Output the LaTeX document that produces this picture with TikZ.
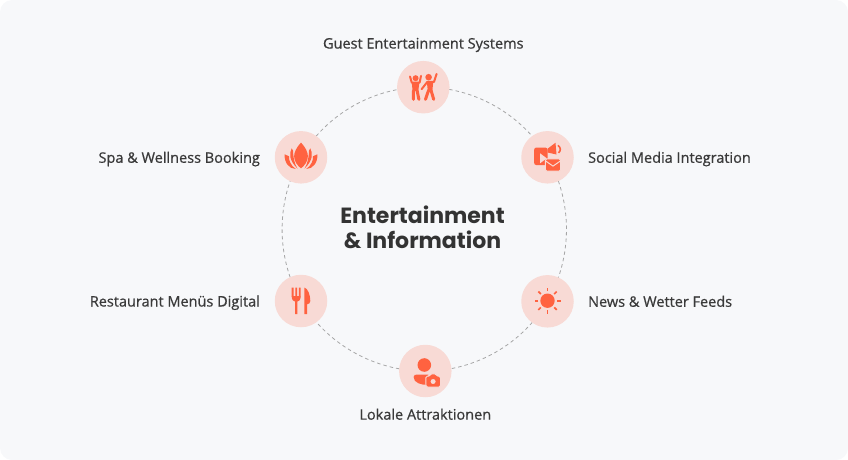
\documentclass[tikz,border=0pt]{standalone}
\usepackage{fontspec}
\setmainfont{Open Sans}
\newfontfamily\labelfont[FakeBold=0.7]{Open Sans}
\newfontfamily\titlefont{Poppins}
\usetikzlibrary{positioning,backgrounds}
\definecolor{panelbg}{HTML}{F7F8FA}
\definecolor{discpink}{HTML}{F8DAD5}
\definecolor{iconred}{HTML}{FF6240}
\definecolor{ringgray}{HTML}{A6A6A6}
\definecolor{labelgray}{HTML}{3A3A3A}
\definecolor{titlegray}{HTML}{333333}
\tikzset{
	disc/.style={circle, fill=discpink, minimum size=52.5pt, inner sep=0pt},
	itemlabel/.style={font=\labelfont\fontsize{14.5}{17}\selectfont, text=labelgray, inner sep=0pt, text height=11pt, text depth=3pt, yshift=-1.5pt},
	ringline/.style={draw=ringgray, line width=0.8pt, dash pattern=on 3.5pt off 3pt, bend left=30, looseness=0.9},
	solid icon/.style={fill=iconred, draw=none},
	limb/.style={draw=iconred, line width=3pt, line cap=round, line join=round},
	hole/.style={fill=discpink, draw=none},
	pics/dancers/.style={code={
		\fill[solid icon] (-7.7,-9) circle (3) (5.3,-10) circle (3.3);
		\draw[limb, line width=2pt] (-13.3,-10.7) -- (-11.5,-4.5) -- (-3.7,-4.5) -- (-2.3,-11.3);
		\fill[solid icon] (-11.5,-4.5) -- (-4,-4.5) -- (-5,4) -- (-10.7,4) -- cycle;
		\draw[limb] (-9.9,3.5) -- (-9.9,12.2) (-6.2,3.5) -- (-4.4,12.2);
		\fill[solid icon] (3.5,-6) -- (10,-6) -- (9,4) -- (4.5,4) -- cycle;
		\draw[limb, line width=2pt] (13.3,-13.3) -- (10.7,-5.3) -- (4,-5.3) -- (-1.7,2);
		\draw[limb] (5.3,3) -- (2.2,12.2) (7.7,3) -- (10.4,12.2);
	}},
	pics/socialmedia/.style={code={
		\fill[solid icon, rounded corners=2pt] (-13.3,-9.7) rectangle (0,7.7);
		\fill[hole] (-7.5,-4) -- (-0.7,1) -- (-7.5,6) -- cycle;
		\fill[solid icon] (0,-8.5) -- (8,-14.5) -- (9,-2.8) -- (0,-4.8) -- cycle;
		\draw[iconred, line width=1.6pt] (10.5,-12) .. controls (13.5,-9.5) and (13.5,-6.5) .. (11,-4.5);
		\fill[solid icon, draw=discpink, line width=1pt, rounded corners=1.5pt] (-2.2,1.5) rectangle (13.2,13.8);
		\draw[discpink, line width=1pt] (-1.7,3.8) -- (5.5,8.8) -- (12.7,3.8);
	}},
	pics/sunshine/.style={code={
		\fill[solid icon] (0,-0.6) circle (7.2);
		\foreach \ang in {0,45,...,315}
			\draw[iconred, line width=1.7pt] ([yshift=0.6pt]\ang:9.5) -- ([yshift=0.6pt]\ang:13);
	}},
	pics/visitor/.style={code={
		\fill[solid icon] (-1,-6) circle (6.8);
		\fill[solid icon] (-11.7,6) .. controls (-11.7,4) and (-10,3.5) .. (-8,3.5) -- (3,3.5)
			-- (3,14) .. controls (-4,14) and (-11.7,12) .. cycle;
		\fill[solid icon, draw=discpink, line width=1pt, rounded corners=1.5pt] (0.5,5.2) -- (4.3,5.2) -- (5,2.8) -- (11,2.8) -- (11.7,5.2)
			-- (15.3,5.2) -- (15.3,16) -- (0.5,16) -- cycle;
		\fill[hole] (7.8,10.5) circle (2.5);
	}},
	pics/cutlery/.style={code={
		\fill[solid icon] (-9.3,-13.3) rectangle (-7.5,-4.5) (-5.7,-13.3) rectangle (-3.9,-4.5) (-2.1,-13.3) rectangle (-0.3,-4.5);
		\fill[solid icon] (-9.3,-5) .. controls (-9.3,-1) and (-7.5,0.5) .. (-6,0.5) -- (-6,13) -- (-3.6,13) -- (-3.6,0.5)
			.. controls (-2,0.5) and (-0.3,-1) .. (-0.3,-5) -- cycle;
		\fill[solid icon] (3.3,-13.5) .. controls (7,-12.5) and (9.3,-6) .. (9.3,0) .. controls (9.3,2) and (8,3.3) .. (6,3.3)
			-- (6,13) -- (3.3,13) -- cycle;
	}},
	pics/lotus/.style={code={
		\fill[solid icon] (0,-14.7) .. controls (4.5,-10) and (6.9,-5) .. (6.9,-1) .. controls (6.9,4) and (3,9) .. (0,11)
			.. controls (-3,9) and (-6.9,4) .. (-6.9,-1) .. controls (-6.9,-5) and (-4.5,-10) .. cycle;
		\foreach \flip in {1,-1} {
			\begin{scope}[xscale=\flip]
				\fill[solid icon] (9.3,-9) .. controls (12,-4) and (12,3) .. (3.5,11.3) .. controls (6.8,6) and (8,-1) .. (7.9,-6.5) -- cycle;
				\fill[solid icon] (16.3,-3) .. controls (17,5) and (12,11.7) .. (5.2,11.7) .. controls (10,8.5) and (12.5,3) .. (12,-1) -- cycle;
			\end{scope}
		}
	}},
}
\begin{document}
\begin{tikzpicture}[x=1pt, y=-1pt]
	\useasboundingbox (0,0) rectangle (848,460);
	
	% item discs, clockwise from the top
	\node[disc] (guest) at (423.3,87.2) {};
	\node[disc] (social) at (547.5,157.3) {};
	\node[disc] (news) at (547.5,301.3) {};
	\node[disc] (local) at (425.3,371) {};
	\node[disc] (food) at (301,301) {};
	\node[disc] (spa) at (301,157.3) {};
	
	\begin{pgfonlayer}{background}
		\fill[panelbg, rounded corners=12pt] (0,0) rectangle (848,460);
		\draw[ringline] (guest.center) to (social.center);
		\draw[ringline] (social.center) to (news.center);
		\draw[ringline] (news.center) to (local.center);
		\draw[ringline] (local.center) to (food.center);
		\draw[ringline] (food.center) to (spa.center);
		\draw[ringline] (spa.center) to (guest.center);
	\end{pgfonlayer}
	
	\pic at (guest) {dancers};
	\pic at (social) {socialmedia};
	\pic at (news) {sunshine};
	\pic at (local) {visitor};
	\pic at (food) {cutlery};
	\pic at (spa) {lotus};
	
	\node[itemlabel, above=10.5pt of guest] (guestlabel) {Guest Entertainment Systems};
	\node[itemlabel, right=14pt of social] (sociallabel) {Social Media Integration};
	\node[itemlabel, right=14pt of news] (newslabel) {News \& Wetter Feeds};
	\node[itemlabel, below=9.5pt of local] (locallabel) {Lokale Attraktionen};
	\node[itemlabel, left=14.5pt of food] (foodlabel) {Restaurant Menüs Digital};
	\node[itemlabel, left=14.5pt of spa] (spalabel) {Spa \& Wellness Booking};
	
	\node[font=\titlefont\bfseries\fontsize{22}{25}\selectfont, text=titlegray, align=center, inner sep=0pt] (title) at (422.5,227) {Entertainment\\ \& Information};
\end{tikzpicture}
\end{document}
